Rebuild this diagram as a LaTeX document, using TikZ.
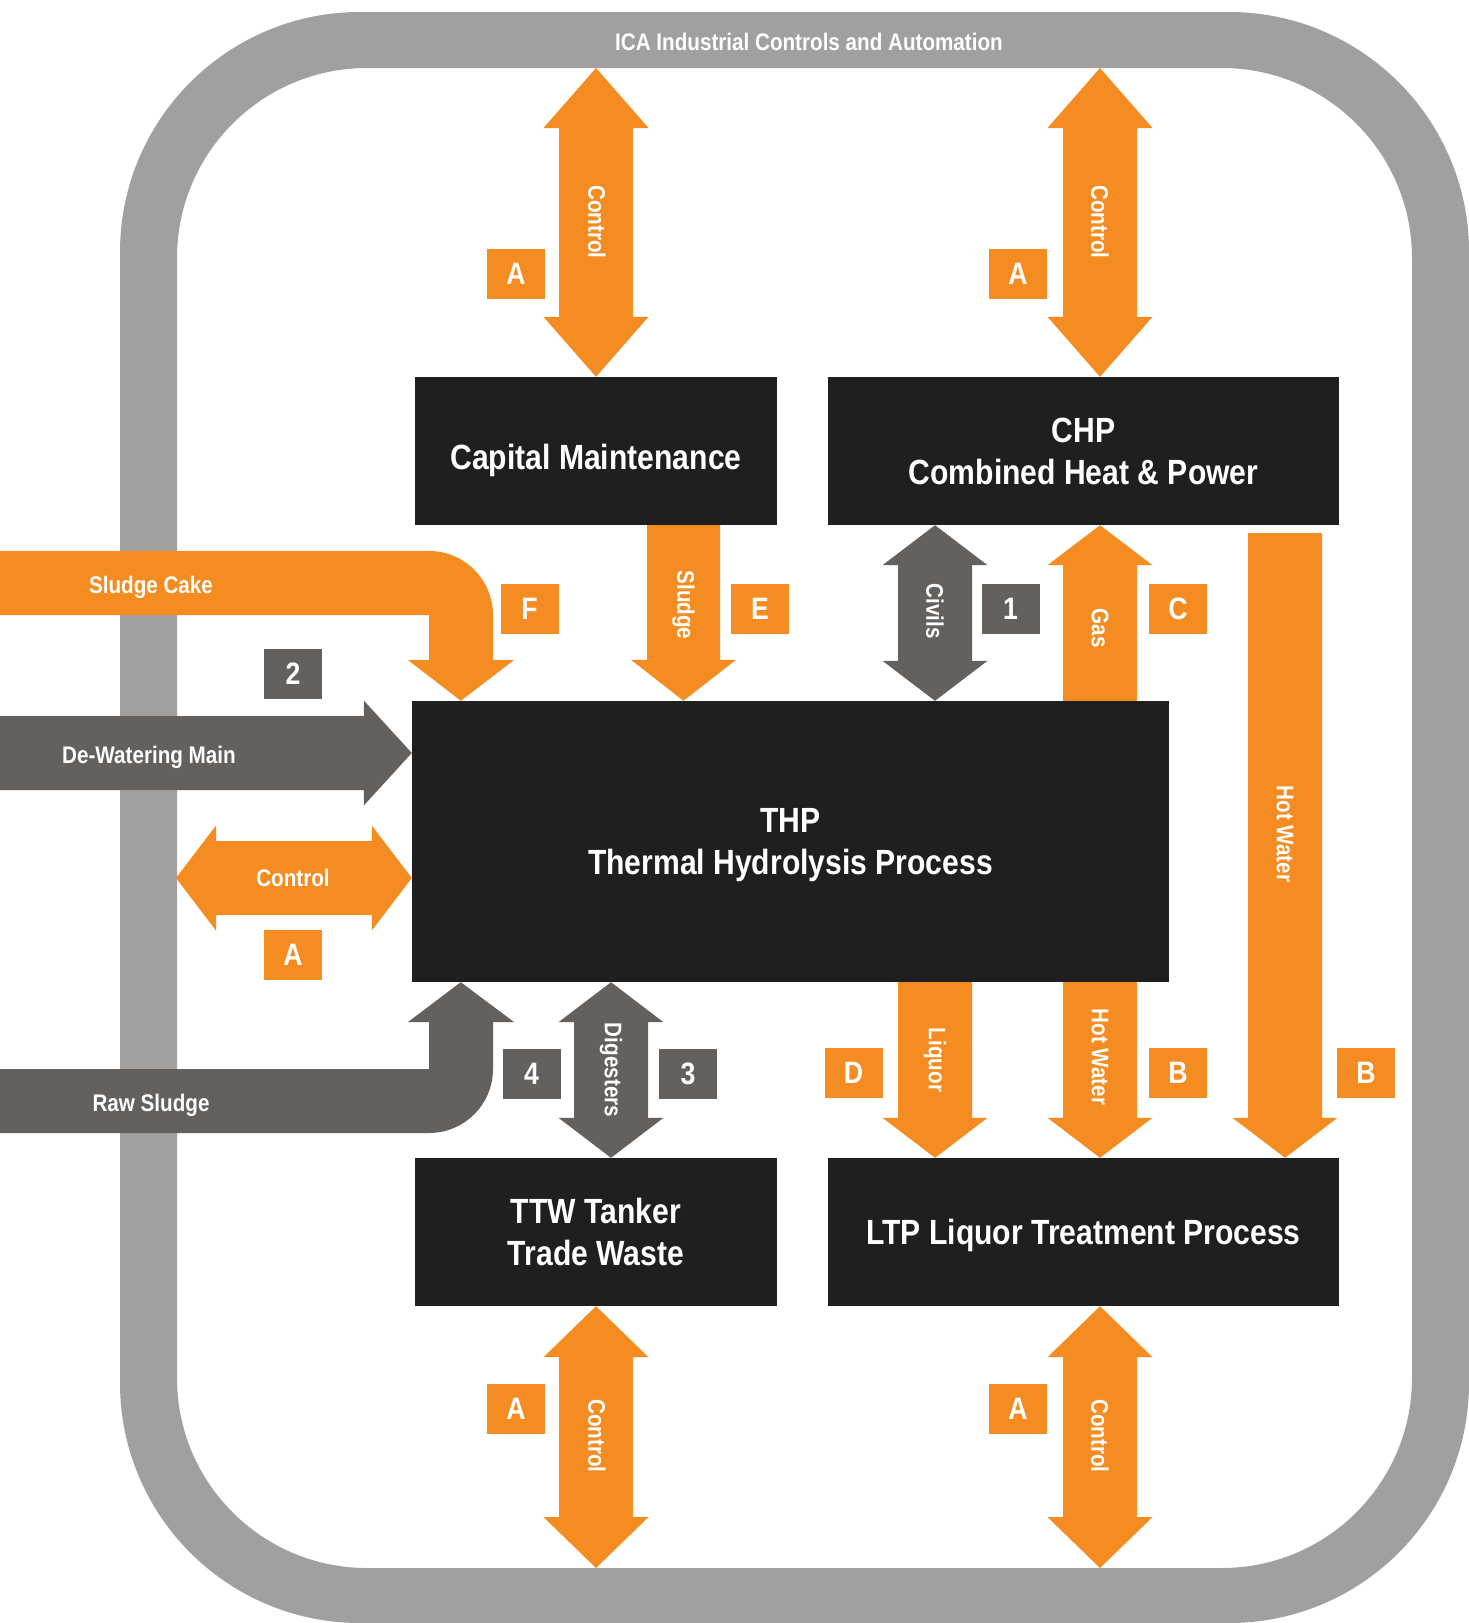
\documentclass[tikz,border=0pt]{standalone}
\usepackage{fontspec}
\setmainfont{Liberation Sans}[FakeStretch=0.86]
\usetikzlibrary{calc,positioning}

\definecolor{icaorange}{HTML}{F58C21}
\definecolor{icagrey}{HTML}{A2A09E}
\definecolor{flowgrey}{HTML}{63605E}
\definecolor{unitblack}{HTML}{201F1F}

\tikzset{
  unit/.style={fill=unitblack, text=white, align=center, inner sep=0pt, font=\bfseries\fontsize{35}{42}\selectfont},
  tag/.style={fill=icaorange, text=white, minimum width=58pt, minimum height=50pt, inner sep=0pt, font=\bfseries\fontsize{31}{31}\selectfont},
  greytag/.style={tag, fill=flowgrey},
  flowlabel/.style={text=white, inner sep=0pt, font=\bfseries\fontsize{24}{26}\selectfont},
}

\newcommand{\onewayarrow}[6]{%
  \coordinate (hb) at ($(#3)!#6!(#2)$);
  \fill[#1] ($(#2)!#4!90:(#3)$) -- ($(hb)!#4!90:(#3)$) -- ($(hb)!#5!90:(#3)$) -- (#3)
    -- ($(hb)!#5!-90:(#3)$) -- ($(hb)!#4!-90:(#3)$) -- ($(#2)!#4!-90:(#3)$) -- cycle;
}
\newcommand{\twowayarrow}[6]{%
  \coordinate (ha) at ($(#2)!#6!(#3)$);
  \coordinate (hb) at ($(#3)!#6!(#2)$);
  \fill[#1] (#2) -- ($(ha)!#5!90:(#3)$) -- ($(ha)!#4!90:(#3)$) -- ($(hb)!#4!90:(#3)$) -- ($(hb)!#5!90:(#3)$) -- (#3)
    -- ($(hb)!#5!-90:(#3)$) -- ($(hb)!#4!-90:(#3)$) -- ($(ha)!#4!-90:(#3)$) -- ($(ha)!#5!-90:(#3)$) -- cycle;
}

\begin{document}
\begin{tikzpicture}[x=1pt,y=-1pt]
\pgfmathsetmacro{\bandw}{37}
\pgfmathsetmacro{\headw}{52.5}
\fill[white] (0,0) rectangle (1469,1623);
\useasboundingbox (0,0) rectangle (1469,1623);
\fill[icagrey, even odd rule] [rounded corners=240pt] (120,12) rectangle (1469,1623) [rounded corners=190pt] (177,68) rectangle (1412,1568);

\node[unit, minimum width=362pt, minimum height=148pt] (cm) at (596,451) {\raisebox{0pt}[36pt][0pt]{Capital Maintenance}};
\node[unit, minimum width=511pt, minimum height=148pt] (chp) at (1083.5,451) {CHP\\Combined Heat \& Power};
\node[unit, minimum width=757pt, minimum height=281pt] (thp) at (790.5,841.5) {THP\\\raisebox{0pt}[\height][0pt]{Thermal Hydrolysis Process}};
\node[unit, minimum width=362pt, minimum height=148pt] (ttw) at (596,1232) {TTW Tanker\\Trade Waste};
\node[unit, minimum width=511pt, minimum height=148pt] (ltp) at (1083.5,1232) {\raisebox{0pt}[\height][0pt]{LTP Liquor Treatment Process}};

\coordinate (icain) at (0,68);
\coordinate (icaout) at (0,1568);
\coordinate (colsludge) at (683.5,0);
\coordinate (coldig) at (611,0);
\coordinate (colcivils) at (935,0);
\coordinate (colgas) at (1100,0);
\coordinate (colhot) at (1285,0);

\coordinate (ctl1a) at (cm.north |- icain);
\coordinate (ctl2a) at (colgas |- icain);
\coordinate (ctl2b) at (colgas |- chp.north);
\coordinate (ctl3b) at (ttw.south |- icaout);
\coordinate (ctl4a) at (colgas |- ltp.south);
\coordinate (ctl4b) at (colgas |- icaout);
\twowayarrow{icaorange}{ctl1a}{cm.north}{\bandw pt}{\headw pt}{60pt}
\twowayarrow{icaorange}{ctl2a}{ctl2b}{\bandw pt}{\headw pt}{60pt}
\twowayarrow{icaorange}{ttw.south}{ctl3b}{\bandw pt}{\headw pt}{51pt}
\twowayarrow{icaorange}{ctl4a}{ctl4b}{\bandw pt}{\headw pt}{51pt}

\coordinate (sl1) at (colsludge |- cm.south);
\coordinate (sl2) at (colsludge |- thp.north);
\onewayarrow{icaorange}{sl1}{sl2}{36.5pt}{\headw pt}{41pt}
\coordinate (cv1) at (colcivils |- chp.south);
\coordinate (cv2) at (colcivils |- thp.north);
\twowayarrow{flowgrey}{cv1}{cv2}{\bandw pt}{\headw pt}{40pt}
\coordinate (gs1) at (colgas |- thp.north);
\coordinate (gs2) at (colgas |- chp.south);
\onewayarrow{icaorange}{gs1}{gs2}{\bandw pt}{\headw pt}{40pt}
\coordinate (hw1) at (1285,533);
\coordinate (hw2) at (colhot |- ltp.north);
\onewayarrow{icaorange}{hw1}{hw2}{\bandw pt}{\headw pt}{40pt}
\coordinate (lq1) at (colcivils |- thp.south);
\coordinate (lq2) at (colcivils |- ltp.north);
\onewayarrow{icaorange}{lq1}{lq2}{\bandw pt}{\headw pt}{40pt}
\coordinate (hm1) at (colgas |- thp.south);
\coordinate (hm2) at (colgas |- ltp.north);
\onewayarrow{icaorange}{hm1}{hm2}{\bandw pt}{\headw pt}{40pt}
\coordinate (dg1) at (coldig |- thp.south);
\coordinate (dg2) at (coldig |- ttw.north);
\twowayarrow{flowgrey}{dg1}{dg2}{\bandw pt}{\headw pt}{40pt}

\coordinate (dw0) at (0,753);
\coordinate (dw1) at (dw0 -| thp.west);
\onewayarrow{flowgrey}{dw0}{dw1}{\bandw pt}{\headw pt}{48pt}
\coordinate (cl0) at (176,878);
\coordinate (cl1) at (cl0 -| thp.west);
\twowayarrow{icaorange}{cl0}{cl1}{\bandw pt}{\headw pt}{40pt}

\coordinate (caketip) at ([xshift=49pt]thp.north west);
\coordinate (rawtip) at ([xshift=49pt]thp.south west);
\fill[icaorange] (0,551) -- (429,551) arc (-90:0:64) -- (493,660) -- (514,660) -- (caketip) -- (408,660) -- (429,660) -- (429,615) -- (0,615) -- cycle;
\fill[flowgrey] (0,1069) -- (429,1069) -- (429,1022) -- (408,1022) -- (rawtip) -- (514,1022) -- (493,1022) -- (493,1069) arc (0:90:64) -- (0,1133) -- cycle;

\node[flowlabel] (ica) at (809,42) {ICA Industrial Controls and Automation};
\node[flowlabel, text depth=0pt] (cake) at (151,585) {Sludge Cake};
\node[flowlabel, text depth=0pt] (dwm) at (149,755) {De-Watering Main};
\node[flowlabel, text depth=0pt] (raw) at (151,1103) {Raw Sludge};
\node[flowlabel] (ctlL) at (293,878) {Control};
\node[flowlabel, rotate=-90] (ctl1) at (597,222) {Control};
\node[flowlabel, rotate=-90] (ctl2) at (1100,222) {Control};
\node[flowlabel, rotate=-90] (ctl3) at (597,1436) {Control};
\node[flowlabel, rotate=-90] (ctl4) at (1100,1436) {Control};
\node[flowlabel, rotate=-90] (sludge) at (683.5,605) {Sludge};
\node[flowlabel, rotate=-90] (civils) at (935,611) {Civils};
\node[flowlabel, rotate=-90] (gas) at (1100,628) {Gas};
\node[flowlabel, rotate=-90] (hotL) at (1285,834) {Hot Water};
\node[flowlabel, rotate=-90] (liquor) at (935,1060) {Liquor};
\node[flowlabel, rotate=-90] (hotM) at (1100,1057) {Hot Water};
\node[flowlabel, rotate=-90] (dig) at (611,1070) {Digesters};

\node[tag] (tagA1) at (516,274) {A};
\node[tag] (tagA2) at (1018,274) {A};
\node[tag] (tagF) at (529.5,609) {F};
\node[tag] (tagE) at (760,609) {E};
\node[greytag] (tag1) at (1010.5,609) {1};
\node[tag] (tagC) at (1178,609) {C};
\node[greytag] (tag2) at (293,674) {2};
\node[tag] (tagA3) at (293,955) {A};
\node[greytag] (tag4) at (531.5,1073.5) {4};
\node[greytag] (tag3) at (688,1073.5) {3};
\node[tag] (tagD) at (853.5,1073) {D};
\node[tag] (tagB1) at (1178,1073) {B};
\node[tag] (tagB2) at (1366,1073) {B};
\node[tag] (tagA4) at (516,1409) {A};
\node[tag] (tagA5) at (1018,1409) {A};
\end{tikzpicture}
\end{document}
